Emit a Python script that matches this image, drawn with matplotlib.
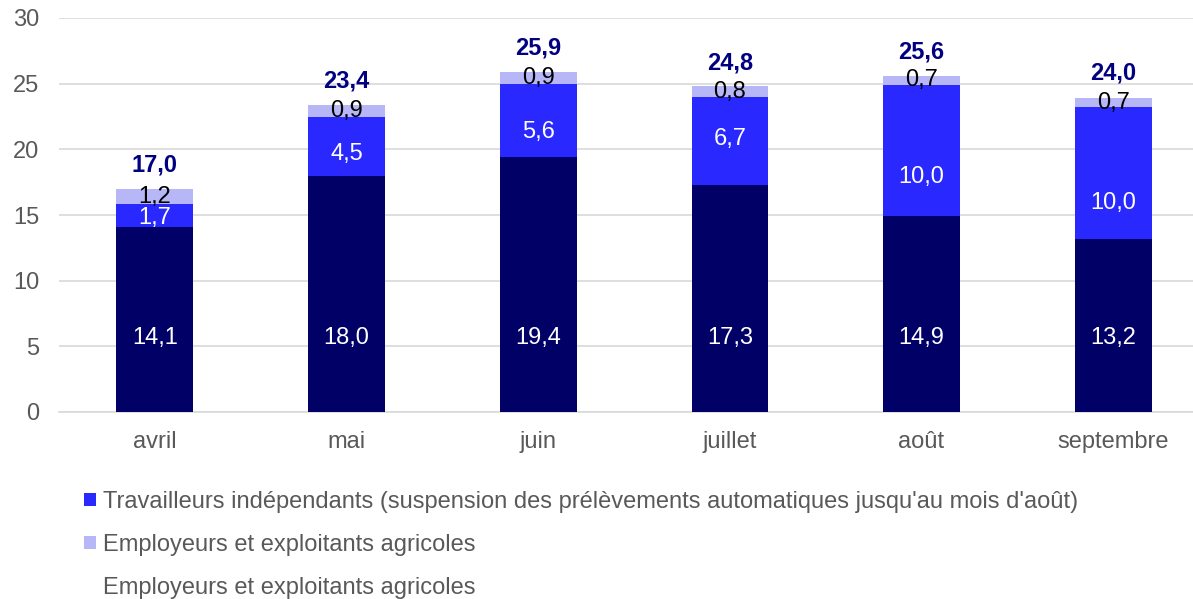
import matplotlib.pyplot as plt
from matplotlib.patches import Patch

plt.rcParams['font.family'] = ['Liberation Sans', 'DejaVu Sans']

# Data
months = ["avril", "mai", "juin", "juillet", "août", "septembre"]
employeurs_prives = [14.1, 18.0, 19.4, 17.3, 14.9, 13.2]
independants = [1.7, 4.5, 5.6, 6.7, 10.0, 10.0]
agricoles = [1.2, 0.9, 0.9, 0.8, 0.7, 0.7]
totals = [17.0, 23.4, 25.9, 24.8, 25.6, 24.0]

legend_labels = [
    "Travailleurs indépendants (suspension des prélèvements automatiques jusqu'au mois d'août)",
    "Employeurs et exploitants agricoles",
    "Employeurs et exploitants agricoles",
]

# where the labels sit in the original (value units), not data
dark_label_y = 5.6
blue_label_y = [14.8, 19.65, 21.3, 20.8, 17.9, 15.9]

c_dark = "#000066"
c_blue = "#2929FF"
c_light = "#B7B7F7"
c_text = "#595959"
fs = 17


def fmt(v):
    return f"{v:.1f}".replace(".", ",")


fig = plt.figure(figsize=(11.93, 5.99), dpi=100)
ax = fig.add_axes([59 / 1193, 187 / 599, 1150 / 1193, 394 / 599])

x = list(range(len(months)))
w = 0.40
ax.bar(x, employeurs_prives, w, color=c_dark, zorder=3)
ax.bar(x, independants, w, bottom=employeurs_prives, color=c_blue, zorder=3)
bottom3 = [a + b for a, b in zip(employeurs_prives, independants)]
b3 = ax.bar(x, agricoles, w, bottom=bottom3, color=c_light, zorder=3)

for xi, v in zip(x, employeurs_prives):
    ax.text(xi, dark_label_y, fmt(v), ha="center", va="center", color="white",
            fontsize=fs, zorder=4)
for xi, v, yl in zip(x, independants, blue_label_y):
    ax.text(xi, yl, fmt(v), ha="center", va="center", color="white",
            fontsize=fs, zorder=4)
ax.bar_label(b3, labels=[fmt(v) for v in agricoles], label_type="center",
             color="black", fontsize=fs, zorder=4)

for xi, t in zip(x, totals):
    ax.annotate(fmt(t), (xi, t), xytext=(0, 17), textcoords="offset points",
                ha="center", va="center", fontsize=fs, fontweight="bold", color="#000080")

ax.set_ylim(0, 30)
ax.set_xlim(-0.5, len(months) - 0.5)
ax.set_yticks(range(0, 31, 5))
ax.set_xticks(x)
ax.set_xticklabels(months)
ax.tick_params(axis="both", length=0, labelsize=fs, labelcolor=c_text)
ax.tick_params(axis="x", pad=14)
ax.tick_params(axis="y", pad=14)
ax.grid(axis="y", color="#D9D9D9", linewidth=1.2, zorder=0)
for s in ["top", "right", "left"]:
    ax.spines[s].set_visible(False)
ax.spines["bottom"].set_color("#D9D9D9")
ax.spines["bottom"].set_linewidth(1.2)

handles = [
    Patch(facecolor=c_blue),
    Patch(facecolor=c_light),
    Patch(facecolor="none", edgecolor="none"),
]
fig.legend(handles, legend_labels, loc="upper left",
           bbox_to_anchor=(84 / 1193, 1 - 491 / 599), frameon=False,
           fontsize=fs, labelcolor=c_text, handlelength=0.5, handleheight=0.5,
           handletextpad=0.3, labelspacing=0.88, borderpad=0, borderaxespad=0)

fig.savefig("out.png", dpi=100)
